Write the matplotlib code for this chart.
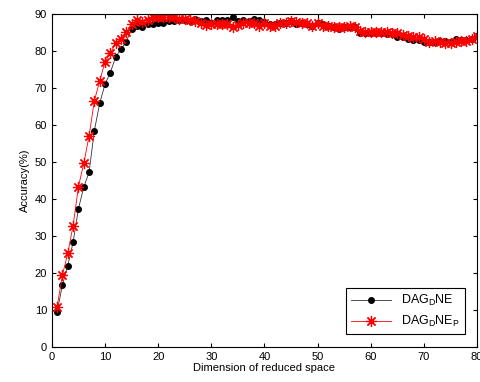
import matplotlib
matplotlib.use("Agg")
import matplotlib.pyplot as plt

plt.rcParams['font.family'] = ['Liberation Sans', 'DejaVu Sans']

dims = list(range(1, 81))

acc_dagdne = [
    9.5, 16.8, 22.0, 28.3, 37.3, 43.2, 47.2, 58.5, 65.9, 71.0,
    74.2, 78.4, 80.5, 82.5, 86.1, 86.8, 86.4, 87.2, 87.3, 87.5,
    87.5, 88.2, 88.1, 88.4, 88.5, 88.2, 88.8, 88.2, 88.4, 87.6,
    88.5, 88.5, 88.5, 89.1, 88.2, 88.4, 88.2, 88.6, 88.4, 87.9,
    87.3, 87.3, 87.5, 87.7, 88.2, 87.3, 87.5, 87.3, 86.7, 87.7,
    87.3, 86.8, 86.5, 85.9, 86.5, 86.4, 86.4, 85.0, 84.8, 84.8,
    85.0, 84.8, 84.6, 84.6, 83.7, 83.9, 83.2, 83.1, 83.0, 82.4,
    82.5, 82.5, 82.8, 82.8, 82.5, 83.2, 83.0, 83.1, 83.4, 84.1,
]

acc_dagdne_p = [
    10.9, 19.5, 25.3, 32.8, 43.3, 49.6, 57.0, 66.6, 71.9, 77.1,
    79.4, 82.1, 83.2, 85.1, 87.2, 88.4, 87.8, 88.5, 89.1, 89.3,
    89.1, 89.1, 89.3, 88.8, 88.8, 88.4, 88.2, 87.5, 87.1, 87.3,
    87.3, 87.3, 87.2, 86.6, 87.1, 87.5, 87.7, 87.7, 86.9, 87.5,
    86.9, 86.9, 87.5, 87.7, 88.2, 88.0, 87.7, 87.5, 86.9, 87.5,
    86.9, 86.8, 86.4, 86.5, 86.5, 86.7, 86.4, 85.5, 85.2, 85.2,
    85.2, 85.2, 85.2, 85.0, 84.8, 84.3, 84.1, 83.9, 83.7, 83.4,
    82.5, 82.8, 82.5, 82.3, 82.3, 82.5, 82.8, 82.8, 83.2, 84.1,
]

fig = plt.figure(figsize=(4.8, 3.82), dpi=100)
ax = fig.add_axes([0.108, 0.092, 0.886, 0.871])

ax.plot(dims, acc_dagdne, color="#333333", linewidth=0.6, marker="o",
        markersize=4, markerfacecolor="k", markeredgecolor="k",
        label="DAG$_\\mathregular{D}$NE")
# MATLAB-style asterisk marker (8 arms)
ax.plot(dims, acc_dagdne_p, color="red", linewidth=0.6, marker=(8, 2, 0),
        markersize=8, markeredgecolor="red", markeredgewidth=0.9,
        label="DAG$_\\mathregular{D}$NE$_\\mathregular{P}$")

ax.set_xlim(0, 80)
ax.set_ylim(0, 90)
ax.set_xticks(range(0, 81, 10))
ax.set_yticks(range(0, 91, 10))
ax.tick_params(direction="in", top=True, right=True, labelsize=8, length=3)
for s in ax.spines.values():
    s.set_linewidth(0.8)

ax.set_xlabel("Dimension of reduced space", fontsize=8, labelpad=1)
ax.set_ylabel("Accuracy(%)", fontsize=8, labelpad=3)

leg = ax.legend(loc="lower right", fontsize=9, fancybox=False, framealpha=1,
                edgecolor="k", borderaxespad=1.0, handlelength=3.2)
leg.get_frame().set_linewidth(0.8)

fig.savefig("out.png", dpi=100)
